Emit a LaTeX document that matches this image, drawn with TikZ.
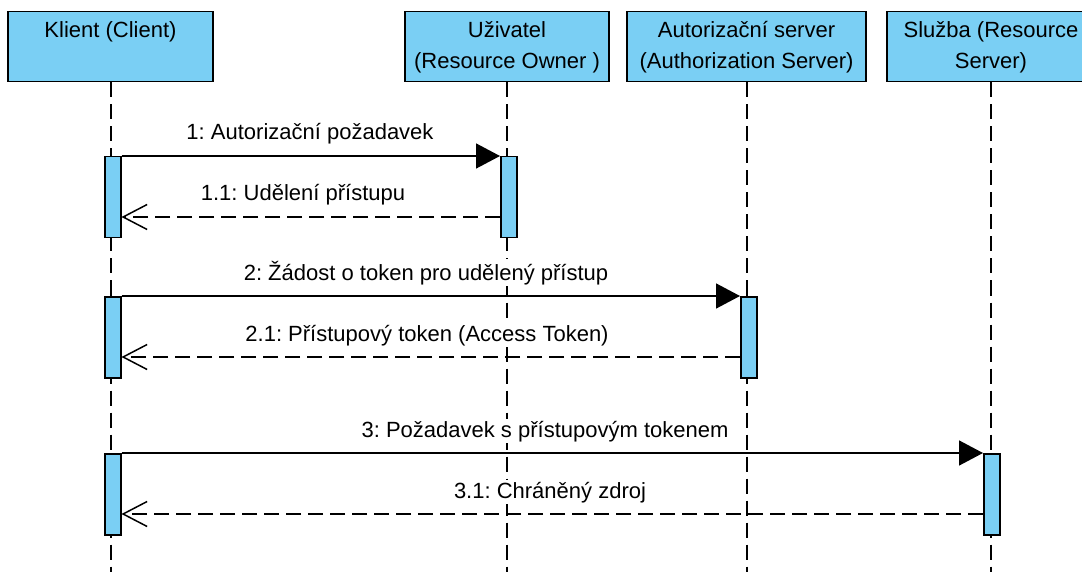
\documentclass[tikz,border=0pt]{standalone}
\usepackage{fontspec}
\setmainfont{Liberation Sans}
\usetikzlibrary{arrows.meta}
\definecolor{lifefill}{RGB}{122,207,244}
\frenchspacing

\begin{document}
\begin{tikzpicture}[x=1pt,y=-1pt,
  every node/.style={font=\fontsize{22}{31}\selectfont},
  hdr/.style={draw=black, line width=1.5pt, fill=lifefill, minimum height=70pt, inner sep=0pt, anchor=north},
  hdrtext/.style={anchor=north, inner sep=0pt, align=center},
  bar/.style={draw=black, line width=1.5pt, fill=lifefill, minimum width=16pt, minimum height=81pt, inner sep=0pt, anchor=north west},
  life/.style={line width=2pt, dash pattern=on 15pt off 7pt},
  call/.style={line width=1.5pt, -{Triangle[length=24pt,width=25pt]}},
  reply/.style={line width=1.5pt, dash pattern=on 15pt off 7pt, -{Straight Barb[length=24pt,width=25pt]}},
  msg/.style={anchor=base, inner sep=1.5pt, fill=white}
]
\useasboundingbox (0,0) rectangle (1082,572);
\clip (0,0) rectangle (1082,572);
\fill[white] (0,0) rectangle (1082,572);

% lifeline heads
\node[hdr, minimum width=205pt] (klient) at (110.5,11) {};
\node[hdr, minimum width=204pt] (uziv)   at (507,11) {};
\node[hdr, minimum width=239pt] (auth)   at (746.5,11) {};
\node[hdr, minimum width=208pt] (sluzba) at (991,11) {};

\node[hdrtext] (tklient) at (klient.north) [yshift=-10pt] {Klient (Client)};
\node[hdrtext] (tuziv)   at (uziv.north)   [yshift=-10pt] {Uživatel\\(Resource Owner )};
\node[hdrtext] (tauth)   at (auth.north)   [yshift=-10pt] {Autorizační server\\(Authorization Server)};
\node[hdrtext] (tsluzba) at (sluzba.north) [yshift=-10pt] {Služba (Resource\\Server)};

% dashed lifelines
\coordinate (bottom) at (0,572);
\draw[life] (klient.south) -- (klient.south |- bottom);
\draw[life] (uziv.south)   -- (uziv.south |- bottom);
\draw[life] (auth.south)   -- (auth.south |- bottom);
\draw[life] (sluzba.south) -- (sluzba.south |- bottom);

% activation bars
\node[bar] (kb1) at (104,156) {};
\node[bar] (ub1) at (500,156) {};
\node[bar] (kb2) at (104,296) {};
\node[bar] (ab2) at (740,296) {};
\node[bar] (kb3) at (104,453) {};
\node[bar] (sb3) at (983,453) {};

% reply heights
\coordinate (r1) at (0,217);
\coordinate (r2) at (0,357);
\coordinate (r3) at (0,514);

% messages
\draw[call]  (kb1.north east) -- (ub1.north west);
\draw[reply] (ub1.west |- r1) -- (kb1.east |- r1);
\draw[call]  (kb2.north east) -- (ab2.north west);
\draw[reply] (ab2.west |- r2) -- (kb2.east |- r2);
\draw[call]  (kb3.north east) -- (sb3.north west);
\draw[reply] (sb3.west |- r3) -- (kb3.east |- r3);

% message labels
\node[msg] (m1)  at (310,140) {1: Autorizační požadavek};
\node[msg] (m11) at (303,201) {1.1: Udělení přístupu};
\node[msg] (m2)  at (426,280) {2: Žádost o token pro udělený přístup};
\node[msg] (m21) at (427,341) {2.1: Přístupový token (Access Token)};
\node[msg] (m3)  at (545,437) {3: Požadavek s přístupovým tokenem};
\node[msg] (m31) at (550,498) {3.1: Chráněný zdroj};
\end{tikzpicture}
\end{document}
